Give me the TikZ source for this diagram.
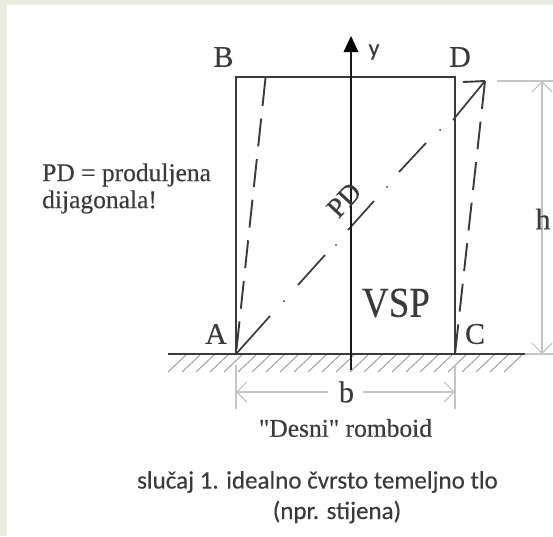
\documentclass[tikz,border=0pt]{standalone}
\usepackage{fontspec}
\setmainfont{Liberation Serif}[FakeBold=0.35]
\newfontfamily\capfont{Carlito}[FakeBold=0.2]
\newfontfamily\rawserif{Liberation Serif}[Ligatures=ResetAll,FakeBold=0.35]
\definecolor{pagebg}{HTML}{ECEBE0}
\definecolor{dimgray}{HTML}{C4C4C4}
\definecolor{ink}{HTML}{3A3A3A}
\definecolor{hatchgray}{HTML}{A0A0A0}
\usetikzlibrary{arrows.meta}
\tikzset{
  barb/.tip={Straight Barb[length=10pt,width=20pt,line width=1.1pt,color=dimgray]},
  frame/.style={line width=1.9pt,draw=ink},
  axis/.style={line width=2.6pt,draw=black!90},
  ground/.style={line width=1.8pt,draw=ink},
  hatch/.style={line width=1pt,draw=hatchgray},
  dimline/.style={line width=1.2pt,draw=dimgray},
  skew/.style={line width=1.9pt,draw=ink,dash pattern=on 28pt off 12.8pt},
  diag/.style={line width=1.7pt,draw=ink},
  lab/.style={font=\fontsize{30}{32}\selectfont,text=ink,inner sep=0pt},
  note/.style={font=\fontsize{25.5}{27}\selectfont,text=ink,inner sep=0pt,align=left},
  captext/.style={font=\capfont\fontsize{25}{30}\selectfont,text=ink,inner sep=0pt,align=center}
}
\begin{document}
\begin{tikzpicture}[x=1pt,y=-1pt]
\useasboundingbox (0,0) rectangle (553,536);
\fill[pagebg] (0,0) rectangle (553,536);
\fill[white] (7,5) rectangle (553,536);
% key points
\coordinate (A) at (236,354);
\coordinate (B) at (236,77);
\coordinate (D) at (455,77);
\coordinate (C) at (455,354);
\coordinate (Dp) at (485,81);
\coordinate (Bp) at (265.5,78);
% hatching
\foreach \x in {168,182,...,510}{\draw[hatch] (\x,372) -- (\x+18,355);}
% ground
\draw[ground] (168,354) -- (525,354);
% body
\draw[frame] (A) -- (B) -- (D) -- (C);
% skewed
\draw[skew] (Bp) -- (A);
\draw[skew] (Dp) -- (C);
\draw[frame] (463,82) -- (Dp);
% diagonal
\draw[diag] (A) -- (270,316);
\draw[diag] (298,285) -- (325,255);
\draw[diag] (348,230) -- (374,201);
\draw[diag] (399,172) -- (426,143);
\draw[diag] (453,120) -- (Dp);
\foreach \p in {(284,301),(336,245),(387,187),(440,130)}{\fill[ink] \p circle (1pt);}
% axis
\draw[axis] (351,370) -- (351,50);
\fill[black] (351,36) -- (358.5,52) -- (343.5,52) -- cycle;
% dimension h
\draw[dimline] (497,81) -- (553,81);
\draw[dimline] (525,354) -- (553,354);
\draw[dimline,barb-barb] (542,81) -- (542,354);
% dimension b
\draw[dimline] (236,365) -- (236,409);
\draw[dimline] (455,365) -- (455,409);
\draw[dimline,barb-] (236,392) -- (328,392);
\draw[dimline,-barb] (363,392) -- (455,392);
% labels
\node[lab] (lA) at (216,334) {A};
\node[lab] (lB) at (223.5,57) {B};
\node[lab] (lD) at (460,57) {D};
\node[lab] (lC) at (475,334) {C};
\node[font=\capfont\fontsize{24}{26}\selectfont,text=ink,inner sep=0pt] (ly) at (374,52) {y};
\node[lab] (lb) at (346.5,392) {b};
\node[lab] (lh) at (543,219) {h};
\node[font=\fontsize{37}{40}\selectfont,text=ink,inner sep=0pt] (vsp) at (396,303) {\scalebox{1}[1.15]{VSP}};
\node[font=\fontsize{28}{30}\selectfont,text=ink,inner sep=0pt,rotate=47] (pd) at (344,200) {PD};
\node[note,anchor=west] (note) at (42,188.5) {PD = produljena\\dijagonala!};
\node[font=\rawserif\fontsize{25.5}{28}\selectfont,text=ink,inner sep=0pt] (rom) at (345.5,428) {"Desni" romboid};
\node[captext] (cap1) at (317.5,482) {slučaj 1. idealno čvrsto temeljno tlo};
\node[captext] (cap2) at (337,512) {(npr. stijena)};
\end{tikzpicture}
\end{document}
